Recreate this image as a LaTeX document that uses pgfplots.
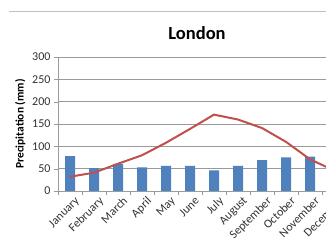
\documentclass[border=0pt]{standalone}
\usepackage{fontspec}
\setmainfont{Carlito}
\usepackage{pgfplots}
\pgfplotsset{compat=1.18}
\definecolor{barblue}{HTML}{4F81BD}
\definecolor{linered}{HTML}{C0504D}
\definecolor{gridgray}{HTML}{9A9A9A}
\definecolor{txtgray}{HTML}{333333}
\begin{document}
\begin{tikzpicture}[x=1pt,y=1pt]
\path[use as bounding box, clip] (0,0) rectangle (326,243);
\fill[white] (0,0) rectangle (326,243);
\draw[black!25, line width=0.8pt] (9,232) -- (326,232);
\begin{axis}[
  at={(58pt,52pt)}, anchor=south west,
  scale only axis, width=288pt, height=134pt,
  xmin=-0.5, xmax=11.5, ymin=0, ymax=300,
  ytick={0,50,...,300},
  xtick={0,...,11},
  xticklabels={January,February,March,April,May,June,July,August,September,October,November,December},
  minor xtick={-0.5,0.5,...,11.5},
  major x tick style={draw=none},
  minor x tick style={draw=gridgray},
  minor tick length=4pt,
  major tick length=4pt,
  tick align=outside,
  axis x line*=bottom, axis y line*=left,
  axis line style={draw=gridgray, line width=0.6pt},
  ytick style={draw=gridgray},
  ymajorgrids, major grid style={draw=gridgray, line width=0.6pt},
  /pgf/number format/assume math mode=true,
  tick label style={font=\fontsize{12}{13}\selectfont, text=txtgray},
  x tick label style={rotate=45, anchor=north east, inner sep=1.5pt, xshift=4pt, yshift=-2pt},
  ylabel={Precipitation (mm)},
  ylabel style={font=\bfseries\fontsize{11.5}{12}\selectfont, text=black},
  clip=false,
]
\addplot[ybar, bar width=10pt, bar shift=0pt, fill=barblue, draw=none]
  coordinates {(0,78) (1,51) (2,61) (3,53) (4,56) (5,56) (6,46) (7,56) (8,69) (9,75) (10,77) (11,79)};
\addplot[linered, line width=2pt, mark=none]
  coordinates {(0,32) (1,41) (2,61) (3,80) (4,108) (5,139) (6,171) (7,160) (8,141) (9,110) (10,71) (11,46)};
\end{axis}
\node[font=\bfseries\fontsize{18.5}{20}\selectfont] at (197,210) {London};
\end{tikzpicture}
\end{document}
